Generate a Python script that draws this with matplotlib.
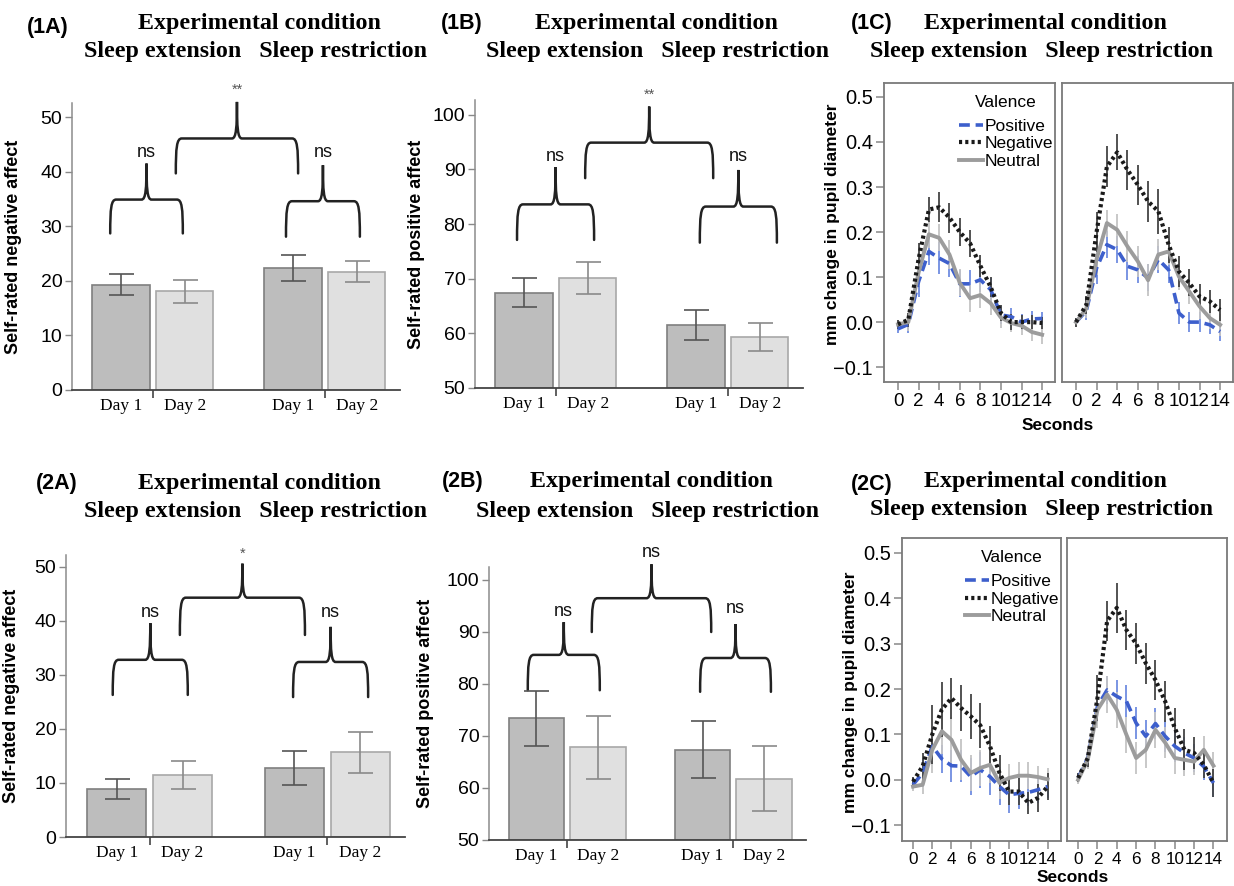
import matplotlib
matplotlib.use('Agg')
import matplotlib.pyplot as plt
from matplotlib.path import Path
from matplotlib.patches import PathPatch
import numpy as np

# ---------------- data ----------------
day_labels = ['Day 1', 'Day 2', 'Day 1', 'Day 2']
condition_labels = ['Sleep extension', 'Sleep restriction']

neg_affect_1 = [19.3, 18.1, 22.3, 21.7]
neg_affect_1_err = [1.95, 2.1, 2.4, 1.9]
pos_affect_1 = [67.4, 70.1, 61.5, 59.3]
pos_affect_1_err = [2.65, 2.9, 2.75, 2.6]
neg_affect_2 = [8.9, 11.5, 12.8, 15.7]
neg_affect_2_err = [1.9, 2.55, 3.1, 3.8]
pos_affect_2 = [73.4, 67.8, 67.4, 61.8]
pos_affect_2_err = [5.35, 6.1, 5.5, 6.2]

sig_1A = ['ns', '**', 'ns']
sig_1B = ['ns', '**', 'ns']
sig_2A = ['ns', '*', 'ns']
sig_2B = ['ns', 'ns', 'ns']

seconds = list(range(15))
valence = ['Positive', 'Negative', 'Neutral']

# study 1 pupil (1C)
p1_ext_pos = [-0.015, -0.005, 0.09, 0.157, 0.142, 0.13, 0.085, 0.085, 0.094, 0.072, 0.016, 0.012, 0.0, 0.007, 0.008]
p1_ext_neg = [-0.005, 0.005, 0.14, 0.25, 0.255, 0.232, 0.2, 0.175, 0.125, 0.078, 0.02, 0.0, 0.0, 0.0, -0.002]
p1_ext_neu = [-0.005, 0.0, 0.11, 0.195, 0.187, 0.15, 0.087, 0.053, 0.06, 0.042, 0.01, -0.002, -0.008, -0.022, -0.028]
p1_res_pos = [0.0, 0.025, 0.12, 0.172, 0.161, 0.124, 0.116, 0.098, 0.139, 0.116, 0.02, 0.0, 0.0, -0.006, -0.021]
p1_res_neg = [0.0, 0.038, 0.2, 0.345, 0.377, 0.338, 0.305, 0.268, 0.246, 0.172, 0.112, 0.087, 0.057, 0.046, 0.027]
p1_res_neu = [0.0, 0.03, 0.14, 0.22, 0.205, 0.168, 0.135, 0.093, 0.15, 0.157, 0.101, 0.068, 0.035, 0.009, -0.006]

p1_ext_pos_err = [0.01, 0.02, 0.035, 0.03, 0.035, 0.03, 0.03, 0.03, 0.028, 0.025, 0.02, 0.02, 0.018, 0.018, 0.015]
p1_ext_neg_err = [0.01, 0.015, 0.035, 0.028, 0.033, 0.033, 0.032, 0.03, 0.025, 0.022, 0.018, 0.017, 0.015, 0.015, 0.014]
p1_ext_neu_err = [0.01, 0.02, 0.03, 0.03, 0.03, 0.032, 0.03, 0.03, 0.028, 0.027, 0.022, 0.02, 0.02, 0.02, 0.02]
p1_res_pos_err = [0.01, 0.02, 0.035, 0.03, 0.03, 0.03, 0.03, 0.03, 0.03, 0.03, 0.025, 0.022, 0.022, 0.02, 0.02]
p1_res_neg_err = [0.01, 0.02, 0.045, 0.045, 0.04, 0.045, 0.045, 0.045, 0.05, 0.04, 0.035, 0.03, 0.028, 0.026, 0.025]
p1_res_neu_err = [0.01, 0.02, 0.035, 0.03, 0.035, 0.035, 0.035, 0.035, 0.035, 0.03, 0.03, 0.028, 0.028, 0.025, 0.025]

# study 2 pupil (2C)
p2_ext_pos = [-0.011, 0.015, 0.074, 0.046, 0.031, 0.03, 0.007, 0.022, 0.007, -0.015, -0.033, -0.03, -0.028, -0.022, -0.015]
p2_ext_neg = [-0.004, 0.03, 0.1, 0.155, 0.18, 0.158, 0.14, 0.12, 0.074, 0.015, -0.026, -0.026, -0.051, -0.04, -0.015]
p2_ext_neu = [-0.015, -0.011, 0.066, 0.107, 0.088, 0.044, 0.015, 0.026, 0.033, -0.007, 0.004, 0.009, 0.009, 0.006, 0.001]
p2_res_pos = [0.004, 0.048, 0.162, 0.198, 0.184, 0.173, 0.125, 0.096, 0.124, 0.096, 0.074, 0.059, 0.048, 0.029, -0.007]
p2_res_neg = [0.004, 0.048, 0.18, 0.35, 0.379, 0.33, 0.3, 0.257, 0.22, 0.173, 0.114, 0.066, 0.059, 0.033, -0.007]
p2_res_neu = [0.0, 0.044, 0.154, 0.188, 0.154, 0.099, 0.048, 0.066, 0.11, 0.082, 0.048, 0.044, 0.04, 0.066, 0.031]

p2_ext_pos_err = [0.01, 0.03, 0.04, 0.03, 0.035, 0.035, 0.04, 0.04, 0.04, 0.04, 0.04, 0.035, 0.03, 0.03, 0.025]
p2_ext_neg_err = [0.01, 0.03, 0.065, 0.06, 0.045, 0.05, 0.05, 0.05, 0.045, 0.04, 0.03, 0.03, 0.025, 0.03, 0.03]
p2_ext_neu_err = [0.01, 0.02, 0.05, 0.05, 0.05, 0.045, 0.04, 0.04, 0.04, 0.035, 0.03, 0.03, 0.03, 0.025, 0.025]
p2_res_pos_err = [0.01, 0.02, 0.035, 0.03, 0.035, 0.035, 0.035, 0.035, 0.035, 0.035, 0.035, 0.035, 0.03, 0.03, 0.03]
p2_res_neg_err = [0.01, 0.02, 0.05, 0.045, 0.055, 0.045, 0.045, 0.045, 0.045, 0.045, 0.045, 0.045, 0.035, 0.03, 0.03]
p2_res_neu_err = [0.01, 0.02, 0.04, 0.04, 0.04, 0.04, 0.035, 0.04, 0.04, 0.035, 0.035, 0.035, 0.03, 0.03, 0.03]

# ---------------- style ----------------
W, H = 1234, 886
SANS = ['Liberation Sans', 'DejaVu Sans']
SERIF = ['Liberation Serif', 'DejaVu Serif']
plt.rcParams['font.family'] = SANS

DAY1_FILL, DAY1_EDGE, DAY1_ERR = '#bdbdbd', '#7f7f7f', '#555555'
DAY2_FILL, DAY2_EDGE, DAY2_ERR = '#e0e0e0', '#a8a8a8', '#8a8a8a'
POS_C, NEG_C, NEU_C = '#3d5fcc', '#1a1a1a', '#9c9c9c'
POS_E, NEG_E, NEU_E = '#6f8ce0', '#444444', '#c4c4c4'

fig = plt.figure(figsize=(W / 100, H / 100), dpi=100)


def add_box(l, t, r, b):
    return fig.add_axes([l / W, 1 - b / H, (r - l) / W, (b - t) / H])


def ftext(x, y, s, **kw):
    fig.text(x / W, 1 - y / H, s, ha='center', va='center', **kw)


def panel_header(letter_xy, letter, title_xy, sub_xy):
    ftext(*letter_xy, letter, fontsize=15.5, fontweight='bold', family=SANS)
    ftext(*title_xy, 'Experimental condition', fontsize=17.3, fontweight='bold', family=SERIF)
    ftext(*sub_xy, condition_labels[0] + '   ' + condition_labels[1],
          fontsize=17.3, fontweight='bold', family=SERIF)


def draw_brace(ax, xl, xr, yb, yh, yt, upx, label, ly):
    cw = 6.0 / upx
    tw = 5.0 / upx
    xm = (xl + xr) / 2
    verts = [(xl, yb), (xl, yb + 0.75 * (yh - yb)), (xl + 0.15 * cw, yh), (xl + cw, yh),
             (xm - tw, yh),
             (xm - 0.15 * tw, yh), (xm, yh + 0.3 * (yt - yh)), (xm, yt),
             (xm, yh + 0.3 * (yt - yh)), (xm + 0.15 * tw, yh), (xm + tw, yh),
             (xr - cw, yh),
             (xr - 0.15 * cw, yh), (xr, yb + 0.75 * (yh - yb)), (xr, yb)]
    C, L, M = Path.CURVE4, Path.LINETO, Path.MOVETO
    codes = [M, C, C, C, L, C, C, C, C, C, C, L, C, C, C]
    ax.add_patch(PathPatch(Path(verts, codes), fill=False, lw=1.8, edgecolor='#222222',
                           clip_on=False, capstyle='round'))
    if label == 'ns':
        ax.text(xm, ly, label, ha='center', va='center', fontsize=13, color='#111111', clip_on=False)
    else:
        ax.text(xm, ly, label, ha='center', va='center', fontsize=10.5, color='#555555', clip_on=False)


bar_pos = np.array([0.0, 1.0, 2.7, 3.7])
XL = (-0.77, 4.38)


def bar_panel(px, vals, errs, ylim, yticks, ylabel, ylabel_x, braces, sigs):
    ax = add_box(*px)
    upx = (px[2] - px[0]) / (XL[1] - XL[0])
    fills = [DAY1_FILL, DAY2_FILL, DAY1_FILL, DAY2_FILL]
    edges = [DAY1_EDGE, DAY2_EDGE, DAY1_EDGE, DAY2_EDGE]
    ecols = [DAY1_ERR, DAY2_ERR, DAY1_ERR, DAY2_ERR]
    vals = np.array(vals)
    ax.bar(bar_pos, vals - ylim[0], bottom=ylim[0], width=0.9, color=fills,
           edgecolor=edges, linewidth=1.2, zorder=2)
    for x, v, e, c in zip(bar_pos, vals, errs, ecols):
        ax.errorbar([x], [v], yerr=[e], fmt='none', ecolor=c, elinewidth=1.2,
                    capsize=9, capthick=1.2, zorder=3)
    ax.set_xlim(*XL)
    ax.set_ylim(*ylim)
    ax.set_yticks(yticks)
    ax.set_xticks(bar_pos)
    ax.set_xticklabels(day_labels, family=SERIF, fontsize=12.5)
    ax.set_xticks([(bar_pos[0] + bar_pos[1]) / 2, (bar_pos[2] + bar_pos[3]) / 2], minor=True)
    ax.tick_params(axis='x', which='major', length=0, pad=6)
    ax.tick_params(axis='x', which='minor', length=6, width=1.2, color='#444444', direction='out')
    ax.tick_params(axis='y', length=5, width=1, color='#888888', labelsize=14, pad=2)
    for s in ['top', 'right']:
        ax.spines[s].set_visible(False)
    ax.spines['left'].set_color('#8c8c8c')
    ax.spines['left'].set_linewidth(1.1)
    ax.spines['bottom'].set_color('#444444')
    ax.spines['bottom'].set_linewidth(1.3)
    ax.set_ylabel(ylabel, fontsize=13, fontweight='bold')
    ax.yaxis.set_label_coords((ylabel_x - px[0]) / (px[2] - px[0]), 0.5)
    for (xl, xr, yb, yh, yt, ly), lab in zip(braces, sigs):
        draw_brace(ax, xl, xr, yb, yh, yt, upx, lab, ly)
    return ax


def pupil_panel(lbox, rbox, xlim, ylim, series_l, series_r, ylabel_xy, seconds_xy, xtick_size):
    axes = []
    for bx, series, first in [(lbox, series_l, True), (rbox, series_r, False)]:
        ax = add_box(*bx)
        styles = [
            dict(color=POS_C, lw=2.6, linestyle=(0, (3.0, 1.6)), ecol=POS_E),
            dict(color=NEG_C, lw=3.0, linestyle=(0, (0.75, 0.75)), ecol=NEG_E),
            dict(color=NEU_C, lw=2.8, linestyle='-', ecol=NEU_E),
        ]
        order = [0, 2, 1]
        handles = {}
        for i in order:
            y, e = series[i]
            st = styles[i]
            ax.errorbar(seconds, y, yerr=e, fmt='none', ecolor=st['ecol'], elinewidth=1.3,
                        capsize=0, zorder=2)
        for i in order:
            y, e = series[i]
            st = styles[i]
            ln, = ax.plot(seconds, y, color=st['color'], lw=st['lw'], linestyle=st['linestyle'],
                          zorder=3, label=valence[i])
            handles[i] = ln
        ax.set_xlim(*xlim)
        ax.set_ylim(*ylim)
        ax.set_xticks(range(0, 15, 2))
        ax.set_yticks([-0.1, 0.0, 0.1, 0.2, 0.3, 0.4, 0.5])
        ax.set_yticklabels(['\u22120.1', '0.0', '0.1', '0.2', '0.3', '0.4', '0.5'])
        ax.tick_params(axis='both', length=6, width=1.1, color='#888888', labelsize=14.5, pad=2)
        ax.tick_params(axis='x', labelsize=xtick_size)
        for s in ax.spines.values():
            s.set_color('#7a7a7a')
            s.set_linewidth(1.3)
        if first:
            leg = ax.legend([handles[0], handles[1], handles[2]], valence, title='Valence',
                            loc='upper right', bbox_to_anchor=(1.0, 0.965), frameon=False,
                            fontsize=12.5, title_fontsize=12.5, handlelength=1.4, handletextpad=0.1,
                            labelspacing=0.15, borderpad=0.1, borderaxespad=0.0)
            leg._legend_box.align = 'center'
            leg._legend_box.sep = 6
        else:
            ax.tick_params(axis='y', left=False, labelleft=False)
        axes.append(ax)
    ftext(*ylabel_xy, 'mm change in pupil diameter', fontsize=12.5, fontweight='bold', rotation=90)
    ftext(*seconds_xy, 'Seconds', fontsize=12.5, fontweight='bold')
    return axes


# ---------------- row 1 ----------------
panel_header((48, 27), '(1A)', (259, 24), (256, 52))
panel_header((462, 24), '(1B)', (656, 24), (658, 52))
panel_header((872, 24), '(1C)', (1045, 24), (1041, 52))

bar_panel((72, 103, 400, 390), neg_affect_1, neg_affect_1_err, (0, 52.6), [0, 10, 20, 30, 40, 50],
          'Self-rated negative affect', 22,
          [(-0.17, 0.97, 28.7, 34.9, 41.5, 43.5),
           (0.86, 2.78, 39.7, 46.1, 52.8, 55.1),
           (2.59, 3.75, 28.1, 34.6, 41.2, 43.6)], sig_1A)

bar_panel((475, 100, 803, 388), pos_affect_1, pos_affect_1_err, (50, 102.7), [50, 60, 70, 80, 90, 100],
          'Self-rated positive affect', 425,
          [(-0.11, 1.10, 77.1, 83.6, 90.4, 92.3),
           (0.96, 2.97, 88.4, 94.9, 101.5, 103.7),
           (2.76, 3.97, 76.6, 83.2, 89.9, 92.4)], sig_1B)

pupil_panel((884, 83, 1055, 382), (1062, 83, 1233, 382), (-1.36, 15.25), (-0.133, 0.531),
            [(p1_ext_pos, p1_ext_pos_err), (p1_ext_neg, p1_ext_neg_err), (p1_ext_neu, p1_ext_neu_err)],
            [(p1_res_pos, p1_res_pos_err), (p1_res_neg, p1_res_neg_err), (p1_res_neu, p1_res_neu_err)],
            (832, 224), (1058, 425), 13.5)

# ---------------- row 2 ----------------
panel_header((57, 484), '(2A)', (259, 483), (256, 511))
panel_header((463, 482), '(2B)', (651, 482), (648, 511))
panel_header((872, 485), '(2C)', (1045, 482), (1041, 510))

bar_panel((66, 555, 405, 837), neg_affect_2, neg_affect_2_err, (0, 52.2), [0, 10, 20, 30, 40, 50],
          'Self-rated negative affect', 20,
          [(-0.06, 1.08, 26.3, 32.8, 39.6, 41.5),
           (0.96, 2.86, 37.4, 44.3, 50.6, 52.4),
           (2.68, 3.82, 25.9, 32.4, 38.9, 41.5)], sig_2A)

bar_panel((489, 567, 806, 840), pos_affect_2, pos_affect_2_err, (50, 102.5), [50, 60, 70, 80, 90, 100],
          'Self-rated positive affect', 434,
          [(-0.14, 1.03, 78.8, 85.6, 91.9, 94.0),
           (0.90, 2.84, 90.0, 96.5, 103.0, 105.2),
           (2.66, 3.81, 78.5, 85.0, 91.5, 94.6)], sig_2B)

pupil_panel((902, 538, 1061, 841), (1067, 538, 1227, 841), (-1.15, 15.4), (-0.135, 0.533),
            [(p2_ext_pos, p2_ext_pos_err), (p2_ext_neg, p2_ext_neg_err), (p2_ext_neu, p2_ext_neu_err)],
            [(p2_res_pos, p2_res_pos_err), (p2_res_neg, p2_res_neg_err), (p2_res_neu, p2_res_neu_err)],
            (850, 692), (1073, 878), 12.3)

fig.savefig('out.png', dpi=100)
